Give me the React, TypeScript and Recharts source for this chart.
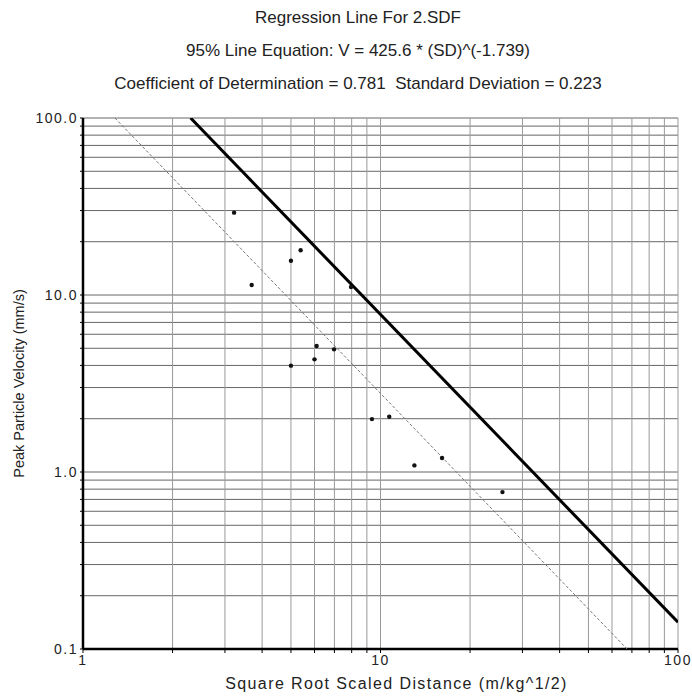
import React from "react";
import {
  CartesianGrid,
  Scatter,
  ScatterChart,
  XAxis,
  YAxis,
} from "recharts";

// measured points (SD, PPV)
const observations = [
  { sd: 3.22, ppv: 29.2 },
  { sd: 3.69, ppv: 11.4 },
  { sd: 5.0, ppv: 15.6 },
  { sd: 5.39, ppv: 17.9 },
  { sd: 7.96, ppv: 11.1 },
  { sd: 6.1, ppv: 5.15 },
  { sd: 6.0, ppv: 4.33 },
  { sd: 6.98, ppv: 4.93 },
  { sd: 5.0, ppv: 3.99 },
  { sd: 9.36, ppv: 1.99 },
  { sd: 10.7, ppv: 2.05 },
  { sd: 13.0, ppv: 1.09 },
  { sd: 16.1, ppv: 1.2 },
  { sd: 25.7, ppv: 0.77 },
];

// 95% line end points, V = 425.6 * SD^-1.739
const line95 = [
  { sd: 2.3, ppv: 100 },
  { sd: 100, ppv: 0.1416 },
];

// mean regression line end points
const lineMean = [
  { sd: 1.28, ppv: 100 },
  { sd: 67.4, ppv: 0.1 },
];

const xTicks = [1, 2, 3, 4, 5, 6, 7, 8, 9, 10, 20, 30, 40, 50, 60, 70, 80, 90, 100];
const yTicks = [
  0.1, 0.2, 0.3, 0.4, 0.5, 0.6, 0.7, 0.8, 0.9,
  1, 2, 3, 4, 5, 6, 7, 8, 9,
  10, 20, 30, 40, 50, 60, 70, 80, 90, 100,
];
const xLabels: Record<number, string> = { 1: "1", 10: "10", 100: "100" };
const yLabels: Record<number, string> = {
  0.1: "0.1",
  1: "1.0",
  10: "10.0",
  100: "100.0",
};

const titles = [
  "Regression Line For 2.SDF",
  "95% Line Equation: V = 425.6 * (SD)^(-1.739)",
  "Coefficient of Determination = 0.781  Standard Deviation = 0.223",
];

const font = "'Liberation Sans', Arial, sans-serif";
const tickStyle = {
  fontSize: 14,
  fill: "#222",
  fontFamily: font,
  letterSpacing: 1.5,
};

const NoShape = () => <g />;

const Dot = (props: any) => (
  <circle cx={props.cx} cy={props.cy} r={2.2} fill="#111" />
);

export default function App() {
  return (
    <div
      style={{
        position: "absolute",
        left: 0,
        top: 0,
        width: 692,
        height: 696,
        background: "#fff",
        fontFamily: font,
      }}
    >
      {titles.map((t, i) => (
        <div
          key={i}
          style={{
            position: "absolute",
            left: 0,
            width: 716,
            top: 8 + i * 33,
            textAlign: "center",
            fontSize: 17,
            color: "#222",
            whiteSpace: "pre",
          }}
        >
          {t}
        </div>
      ))}
      <ScatterChart
        width={692}
        height={696}
        margin={{ top: 118, right: 14, bottom: 7, left: 13 }}
      >
        <CartesianGrid vertical={false} stroke="#666" strokeWidth={1} />
        <CartesianGrid horizontal={false} stroke="#999" strokeWidth={1} />
        <XAxis
          type="number"
          dataKey="sd"
          scale="log"
          domain={[1, 100]}
          ticks={xTicks}
          interval={0}
          allowDataOverflow
          height={40}
          tickSize={4}
          tickMargin={2}
          tickFormatter={(v: number) => xLabels[v] ?? ""}
          tick={tickStyle}
          axisLine={{ stroke: "#000", strokeWidth: 2.5 }}
          tickLine={{ stroke: "#000" }}
          label={{
            value: "Square Root Scaled Distance (m/kg^1/2)",
            position: "insideBottom",
            offset: 0,
            dx: 16,
            style: {
              fontSize: 16,
              fill: "#222",
              fontFamily: font,
              letterSpacing: 1.4,
            },
          }}
        />
        <YAxis
          type="number"
          dataKey="ppv"
          scale="log"
          domain={[0.1, 100]}
          ticks={yTicks}
          interval={0}
          allowDataOverflow
          width={70}
          tickSize={3}
          tickMargin={2}
          tickFormatter={(v: number) => yLabels[v] ?? ""}
          tick={tickStyle}
          axisLine={{ stroke: "#000", strokeWidth: 2.5 }}
          tickLine={{ stroke: "#000" }}
          label={{
            value: "Peak Particle Velocity (mm/s)",
            angle: -90,
            position: "insideLeft",
            offset: 0,
            dx: 6,
            style: {
              fontSize: 14.5,
              fill: "#222",
              fontFamily: font,
              textAnchor: "middle",
            },
          }}
        />
        <Scatter
          data={lineMean}
          line={{ stroke: "#777", strokeWidth: 1, strokeDasharray: "3 2" }}
          shape={NoShape}
          isAnimationActive={false}
        />
        <Scatter
          data={line95}
          line={{ stroke: "#000", strokeWidth: 3 }}
          shape={NoShape}
          isAnimationActive={false}
        />
        <Scatter
          data={observations}
          shape={Dot}
          isAnimationActive={false}
        />
      </ScatterChart>
    </div>
  );
}
